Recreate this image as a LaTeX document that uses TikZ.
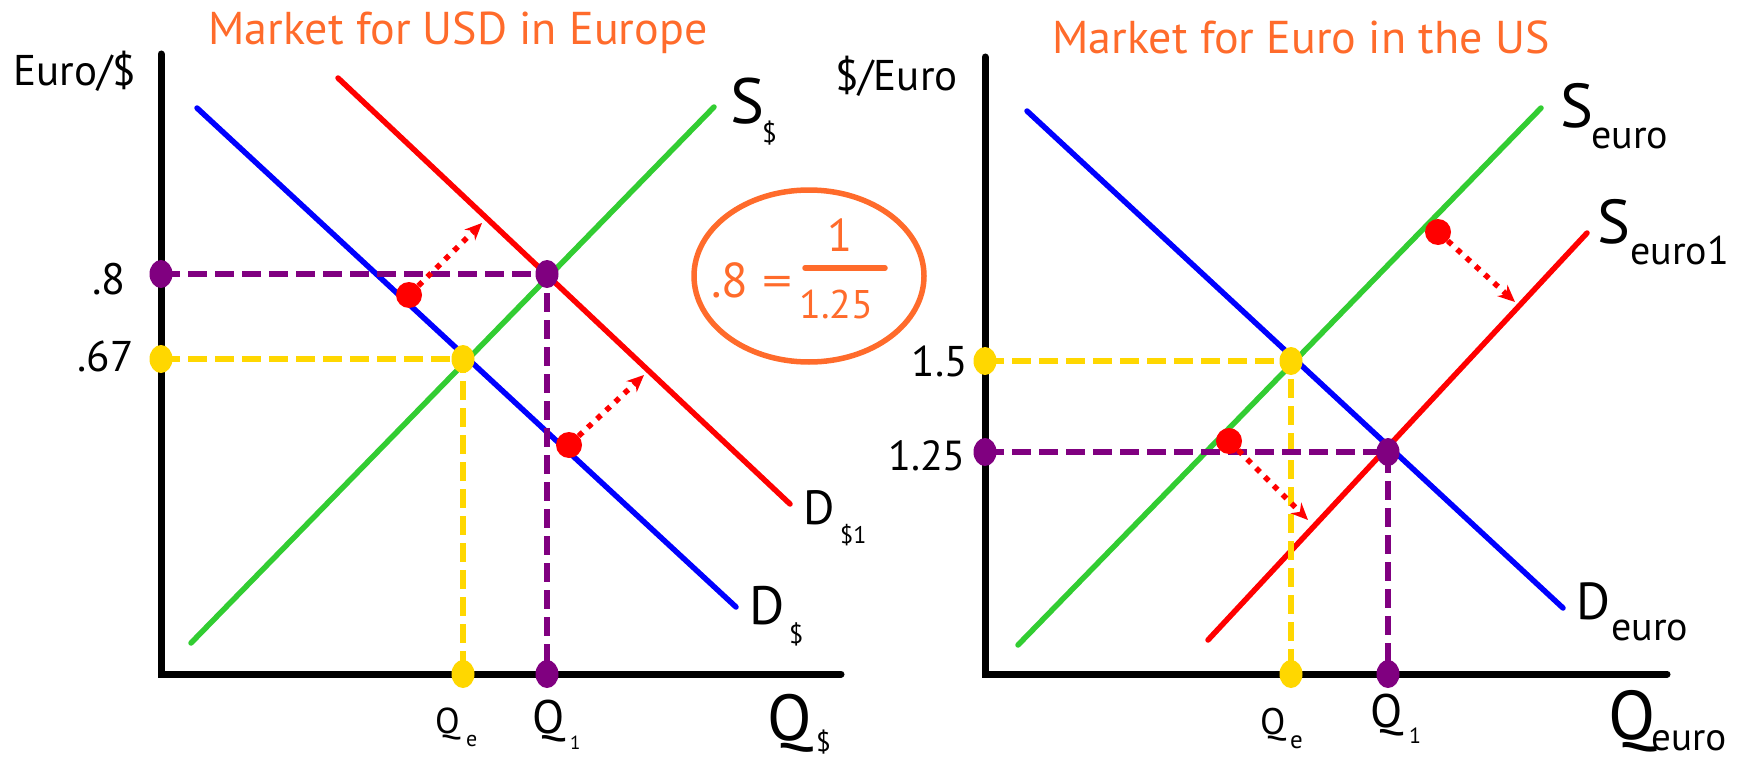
\documentclass[tikz,border=0pt]{standalone}
\usepackage{fontspec}
\setmainfont{PT Sans}
\usetikzlibrary{arrows.meta,shapes.geometric}
\definecolor{cblue}{RGB}{0,0,255}
\definecolor{cred}{RGB}{255,0,0}
\definecolor{cgreen}{RGB}{50,205,50}
\definecolor{cpurple}{RGB}{128,0,128}
\definecolor{cyellow}{RGB}{255,215,0}
\definecolor{corange}{RGB}{255,107,43}
\newcommand{\fsz}[1]{\fontsize{#1}{#1}\selectfont}
\tikzset{
  axisline/.style={line width=7pt, line cap=round, black},
  curve/.style={line width=5.5pt, line cap=round},
  guide/.style={line width=6pt, dash pattern=on 19pt off 8pt},
  gdot/.style={ellipse, minimum width=23pt, minimum height=28pt, inner sep=0pt},
  rdot/.style={circle, fill=cred, minimum size=26pt, inner sep=0pt},
  shiftarrow/.style={cred, line width=5.5pt, dash pattern=on 5.5pt off 7pt, -{Stealth[length=17pt,width=15pt]}},
  lbl/.style={inner sep=0pt, anchor=base west},
  titletext/.style={inner sep=0pt, anchor=base, text=corange},
}
\begin{document}
\begin{tikzpicture}[x=1pt, y=-1pt]
\useasboundingbox (0,0) rectangle (1745,760);

% ================= LEFT PANEL =================
\coordinate (LO) at (161,674);
\coordinate (LYtop) at (161,54);
\coordinate (LXend) at (841,674);
\coordinate (DLa) at (197,108);   \coordinate (DLb) at (736,607);
\coordinate (D1a) at (338,78);    \coordinate (D1b) at (790,504);
\coordinate (SLa) at (191,643);   \coordinate (SLb) at (714,107);
\coordinate (Lp8) at (161,274);   \coordinate (LpE) at (547,274);   \coordinate (LpQ) at (547,674);
\coordinate (Ly67) at (161,359);  \coordinate (LyE) at (463,359);   \coordinate (LyQ) at (463,674);

\draw[axisline] (LYtop) -- (LO) -- (LXend);
\draw[curve, cblue] (DLa) -- (DLb);
\draw[curve, cred] (D1a) -- (D1b);
\draw[curve, cgreen] (SLa) -- (SLb);

\draw[guide, cpurple] (Lp8) -- (LpE) -- (LpQ);
\draw[guide, cyellow] (Ly67) -- (LyE) -- (LyQ);

\foreach \p in {Lp8,LpE,LpQ} \node[gdot, fill=cpurple] at (\p) {};
\foreach \p in {Ly67,LyE,LyQ} \node[gdot, fill=cyellow] at (\p) {};

\node[rdot] (Lr1) at (409,295) {};
\coordinate (Lt1) at (482,223);
\node[rdot] (Lr2) at (569,445) {};
\coordinate (Lt2) at (644,375);
\draw[shiftarrow] (Lr1) -- (Lt1);
\draw[shiftarrow] (Lr2) -- (Lt2);

\node[titletext, font=\fsz{46}] (Ltitle) at (458,45) {Market for USD in Europe};
\node[lbl, font=\fsz{43}] (Lylab) at (13,85) {Euro/\$};
\node[inner sep=0pt, anchor=base east, font=\fsz{44}] (L8) at (126,294) {.8};
\node[inner sep=0pt, anchor=base east, font=\fsz{43}] (L67) at (134,371) {.67};

\node[lbl, font=\fsz{64}] (LS) at (730,123) {S};
\node[lbl, font=\fsz{27}] at (762,142) {\$};
\node[lbl, font=\fsz{48}] (LD1) at (803,524) {D};
\node[lbl, font=\fsz{24}] at (840,543) {\$1};
\node[lbl, font=\fsz{54}] (LD) at (749,624) {D};
\node[lbl, font=\fsz{26}] at (789,643) {\$};

\node[lbl, font=\fsz{36}] (LQe) at (435,733) {Q};
\node[lbl, font=\fsz{22}] at (466,746) {e};
\node[lbl, font=\fsz{47}] (LQ1) at (532,733) {Q};
\node[lbl, font=\fsz{19}] at (570,749) {1};
\node[lbl, font=\fsz{65}, text depth=0pt] (LQd) at (767,740) {Q};
\node[lbl, font=\fsz{27}, text depth=0pt] at (816,751) {\$};

% ================= CENTER EQUATION =================
\draw[corange, line width=5.5pt] (809,276) ellipse [x radius=115pt, y radius=86pt];
\node[inner sep=0pt, anchor=base west, text=corange, font=\fsz{49}] (eq8) at (711,297) {.8};
\node[inner sep=0pt, text=corange, font=\fsz{44}] (eqeq) at (777.5,286.5) {\scalebox{1.35}[1]{=}};
\coordinate (barL) at (805,268);
\coordinate (barR) at (885,268);
\draw[corange, line width=5.5pt, line cap=round] (barL) -- (barR);
\node[inner sep=0pt, anchor=base, text=corange, font=\fsz{46}] (eqnum) at (840,251) {1};
\node[inner sep=0pt, anchor=base west, text=corange, font=\fsz{40}] (eqden) at (799,318) {1.25};

% ================= RIGHT PANEL =================
\coordinate (RO) at (985,674);
\coordinate (RYtop) at (985,57);
\coordinate (RXend) at (1667,674);
\coordinate (DRa) at (1027,111);  \coordinate (DRb) at (1563,608);
\coordinate (SRa) at (1018,645);  \coordinate (SRb) at (1541,108);
\coordinate (S1a) at (1208,640);  \coordinate (S1b) at (1587,233);
\coordinate (Ry15) at (985,361);  \coordinate (RyE) at (1291,361);  \coordinate (RyQ) at (1291,674);
\coordinate (Rp125) at (985,452); \coordinate (RpE) at (1388,452);  \coordinate (RpQ) at (1388,674);

\draw[axisline] (RYtop) -- (RO) -- (RXend);
\draw[curve, cblue] (DRa) -- (DRb);
\draw[curve, cgreen] (SRa) -- (SRb);
\draw[curve, cred] (S1a) -- (S1b);

\draw[guide, cyellow] (Ry15) -- (RyE) -- (RyQ);
\draw[guide, cpurple] (Rp125) -- (RpE) -- (RpQ);

\foreach \p in {Ry15,RyE,RyQ} \node[gdot, fill=cyellow] at (\p) {};
\foreach \p in {Rp125,RpE,RpQ} \node[gdot, fill=cpurple] at (\p) {};

\node[rdot] (Rr1) at (1438,232) {};
\coordinate (Rt1) at (1515,302);
\node[rdot] (Rr2) at (1229,441) {};
\coordinate (Rt2) at (1308,520);
\draw[shiftarrow] (Rr1) -- (Rt1);
\draw[shiftarrow] (Rr2) -- (Rt2);

\node[titletext, font=\fsz{46}] (Rtitle) at (1301,53) {Market for Euro in the US};
\node[lbl, font=\fsz{43}] (Rylab) at (835,90) {\$/Euro};
\node[inner sep=0pt, anchor=base east, font=\fsz{43}] (R15) at (968,376) {1.5};
\node[inner sep=0pt, anchor=base east, font=\fsz{42}] (R125) at (966,470) {1.25};

\node[lbl, font=\fsz{62}] (RS) at (1560,127) {S};
\node[lbl, font=\fsz{40}] at (1591,148) {euro};
\node[lbl, font=\fsz{62}] (RS1) at (1597,243) {S};
\node[lbl, font=\fsz{40}] at (1630,264) {euro1};
\node[lbl, font=\fsz{52}] (RD) at (1576,619) {D};
\node[lbl, font=\fsz{40}] at (1611,640) {euro};

\node[lbl, font=\fsz{37}] (RQe) at (1260,734) {Q};
\node[lbl, font=\fsz{25}] at (1290,748) {e};
\node[lbl, font=\fsz{47}] (RQ1) at (1370,727) {Q};
\node[lbl, font=\fsz{22}] at (1409,743) {1};
\node[lbl, font=\fsz{69}, text depth=0pt] (RQe2) at (1608,739) {Q};
\node[lbl, font=\fsz{39}, text depth=0pt] at (1651,750) {euro};
\end{tikzpicture}
\end{document}
